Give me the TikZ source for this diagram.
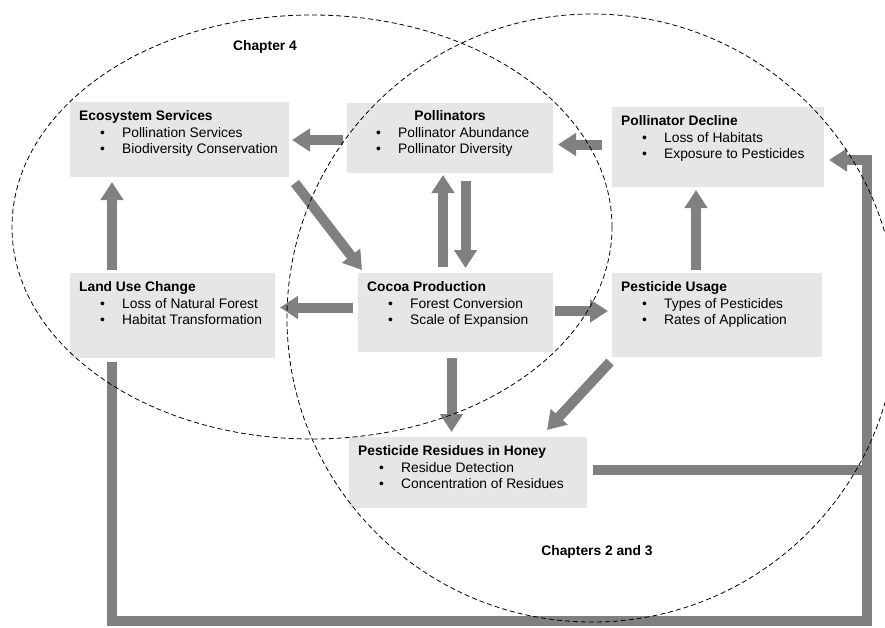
\documentclass[tikz,border=0pt]{standalone}
\usepackage{fontspec}
\setmainfont{Liberation Sans}
\usetikzlibrary{arrows.meta,calc}
\definecolor{boxgray}{HTML}{E6E6E6}
\definecolor{arrgray}{HTML}{808080}
\newcommand\mybox[8]{%
  \node[box, minimum width=#4pt, minimum height=#5pt] (#1) at (#2,#3) {};
  \node[ttl] (#1t) at ($(#1.north west)+(9,18.5)$) {#6};
  \node[itm] (#1b1) at ($(#1.north west)+(30,35)$) {•};
  \node[itm] (#1i1) at ($(#1.north west)+(52,35)$) {#7};
  \node[itm] (#1b2) at ($(#1.north west)+(30,51)$) {•};
  \node[itm] (#1i2) at ($(#1.north west)+(52,51)$) {#8};
}
\begin{document}
\begin{tikzpicture}[x=1pt,y=-1pt,
  box/.style={fill=boxgray, draw=none, anchor=north west, inner sep=0pt, outer sep=0pt},
  ttl/.style={anchor=base west, font=\fontsize{13.8}{16}\selectfont\bfseries, inner sep=0pt},
  itm/.style={anchor=base west, font=\fontsize{13.8}{16}\selectfont, inner sep=0pt},
  fat/.style={draw=arrgray, line width=10pt, -{Triangle[width=22pt,length=18pt]}},
  fatline/.style={draw=arrgray, line width=10pt, line join=miter},
  ell/.style={draw=black, dash pattern=on 5pt off 3pt, line width=0.8pt},
  lbl/.style={font=\fontsize{13.8}{16}\selectfont\bfseries, inner sep=0pt}
]
\fill[white] (0,0) rectangle (885,627);
\useasboundingbox (0,0) rectangle (885,627);

\mybox{eco}{70}{102}{219}{75}{Ecosystem Services}{Pollination Services}{Biodiversity Conservation}
\node[box, minimum width=206pt, minimum height=70pt] (poll) at (347,103) {};
\node[ttl, anchor=base] (pollt) at ($(poll.north)+(0,17)$) {Pollinators};
\node[itm] (pollb1) at ($(poll.north west)+(29,34)$) {•};
\node[itm] (polli1) at ($(poll.north west)+(51,34)$) {Pollinator Abundance};
\node[itm] (pollb2) at ($(poll.north west)+(29,50)$) {•};
\node[itm] (polli2) at ($(poll.north west)+(51,50)$) {Pollinator Diversity};
\mybox{dec}{612}{107}{212}{80}{Pollinator Decline}{Loss of Habitats}{Exposure to Pesticides}
\mybox{lu}{70}{273}{205}{85}{Land Use Change}{Loss of Natural Forest}{Habitat Transformation}
\mybox{coc}{358}{273}{195}{79}{Cocoa Production}{Forest Conversion}{Scale of Expansion}
\mybox{pu}{612}{273}{210}{84}{Pesticide Usage}{Types of Pesticides}{Rates of Application}
\mybox{res}{349}{437}{238}{71}{Pesticide Residues in Honey}{Residue Detection}{Concentration of Residues}

% arrows
\draw[fat] ($(poll.west)+(-4,2)$) -- ($(eco.east)+(3,0.5)$);
\draw[fat] ($(dec.west)+(-10,-2.5)$) -- ($(poll.east)+(5,6.5)$);
\draw[fat] ($(lu.north west)+(42,-3)$) -- ($(eco.south west)+(42,5)$);
\draw[fat] ($(eco.south east)+(6,6)$) -- ($(coc.north west)+(4,-3)$);
\draw[fat] ($(coc.north west)+(85,-6)$) -- ($(poll.south west)+(96,2)$);
\draw[fat] ($(poll.south west)+(118.5,8)$) -- ($(coc.north west)+(107.5,-5)$);
\draw[fat] ($(coc.west)+(-5,-5)$) -- ($(lu.east)+(5,-8)$);
\draw[fat] ($(coc.east)+(2,-1.5)$) -- ($(pu.west)+(-4,-4)$);
\draw[fat] ($(pu.north west)+(84,-3)$) -- ($(dec.south west)+(84,3)$);
\draw[fat] ($(coc.south west)+(93.5,6)$) -- ($(res.north west)+(102.5,-5)$);
\draw[fat] ($(pu.south west)+(-2,5)$) -- ($(res.north west)+(198,-7)$);

\coordinate (rc1) at (867,469.5);
\coordinate (rc2) at (867,160);
\coordinate (lc1) at (112,621);
\coordinate (lc2) at (867,621);
\draw[fatline] ($(lu.south west)+(42,4)$) -- (lc1) -- (lc2) -- (rc1);
\draw[fat, line join=miter] ($(res.east)+(6,-3)$) -- (rc1) -- (rc2) -- ($(dec.east)+(5,13)$);

% ellipses
\draw[ell] (312,227) ellipse [x radius=300pt, y radius=212pt];
\draw[ell] (592,318) ellipse [x radius=305pt, y radius=304pt];

\node[lbl] (ch4) at (265,47) {Chapter 4};
\node[lbl] (ch23) at (597,552) {Chapters 2 and 3};
\end{tikzpicture}
\end{document}
